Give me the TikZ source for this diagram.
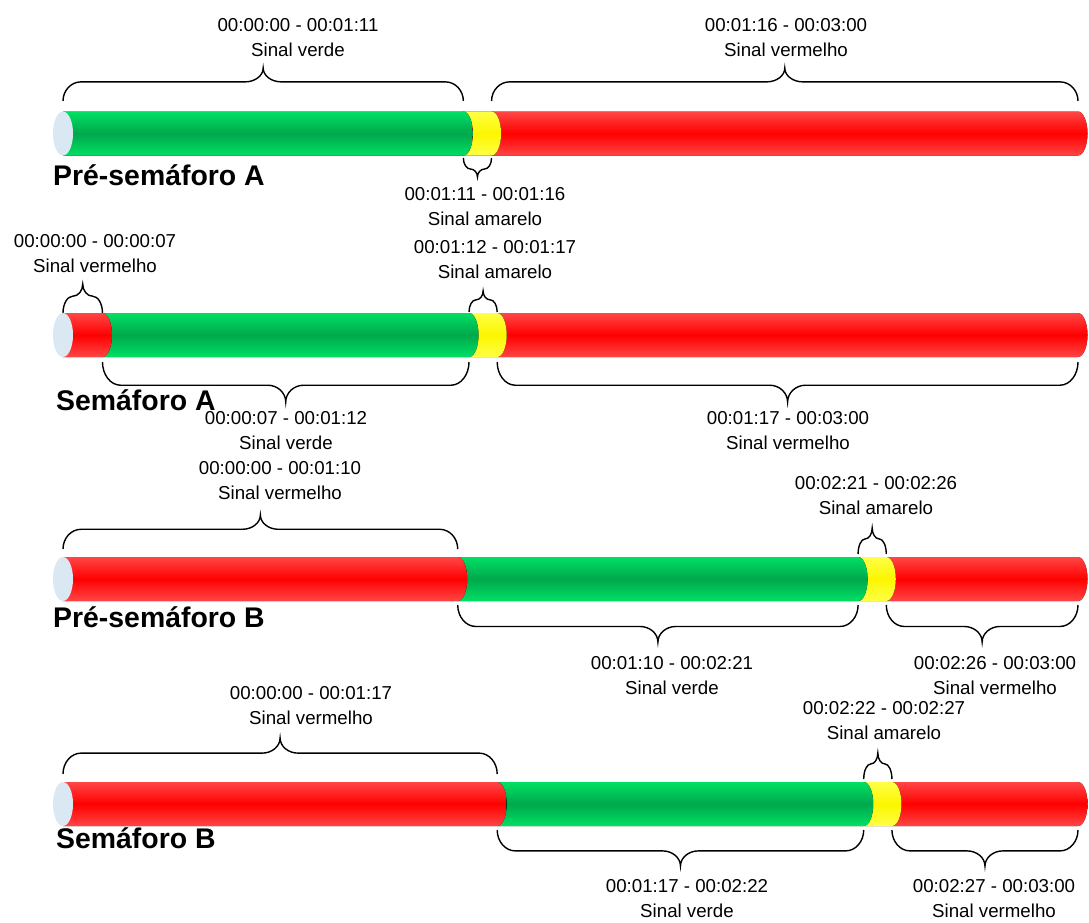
\documentclass[tikz,border=0pt]{standalone}
\usepackage{fontspec}
\setmainfont{Liberation Sans}

\definecolor{greenlight}{RGB}{0,224,100}
\definecolor{greendark}{RGB}{0,168,76}
\definecolor{redlight}{RGB}{255,70,70}
\definecolor{reddark}{RGB}{255,0,0}
\definecolor{yellowlight}{RGB}{255,255,70}
\definecolor{yellowdark}{RGB}{252,246,0}
\definecolor{capblue}{RGB}{218,232,244}

% time (s) -> x position, 1015 px for 180 s
\newcommand{\tx}[1]{63+#1*5.638889}

% one cylinder piece from t1 to t2 around yc
\newcommand{\seg}[4]{%
  \pgfmathsetmacro\xa{\tx{#1}}\pgfmathsetmacro\xb{\tx{#2}}%
  \fill[top color=#4light, bottom color=#4light, middle color=#4dark]
    (\xa,#3-22) -- (\xb,#3-22) arc[start angle=90, end angle=-90, x radius=9.5pt, y radius=22pt]
    -- (\xa,#3+22) -- cycle;}

% brace from t1 to t2, ends at ye, tip at yt
\newcommand{\brc}[4]{%
  \pgfmathsetmacro\xa{\tx{#1}}\pgfmathsetmacro\xb{\tx{#2}}%
  \pgfmathsetmacro\xc{(\xa+\xb)/2}\pgfmathsetmacro\ym{#4+0.42*(#3-#4)}%
  \pgfmathsetmacro\rr{min(18,(\xb-\xa)/4)}%
  \pgfmathsetmacro\yk{\ym+0.45*(#3-\ym)}\pgfmathsetmacro\yq{\ym+0.45*(#4-\ym)}%
  \draw[bracepen] (\xa,#3) .. controls (\xa,\yk) and (\xa+0.45*\rr,\ym) .. (\xa+\rr,\ym) -- (\xc-\rr,\ym)
    .. controls (\xc-0.45*\rr,\ym) and (\xc,\yq) .. (\xc,#4)
    .. controls (\xc,\yq) and (\xc+0.45*\rr,\ym) .. (\xc+\rr,\ym)
    -- (\xb-\rr,\ym) .. controls (\xb-0.45*\rr,\ym) and (\xb,\yk) .. (\xb,#3);}

\begin{document}
\begin{tikzpicture}[x=1pt, y=-1pt,
  bracepen/.style={line width=1.4pt, black},
  lbl/.style={font=\fontsize{18.7}{25}\selectfont, align=center, inner sep=0pt},
  ttl/.style={font=\fontsize{28.4}{34}\selectfont\bfseries, anchor=west, inner sep=0pt}]

\useasboundingbox (0,0) rectangle (1089,922);

% Pre-semaforo A
\seg{76}{180}{133.5}{red}
\seg{71}{76}{133.5}{yellow}
\seg{0}{71}{133.5}{green}
\fill[capblue] (63,133.5) ellipse [x radius=10pt, y radius=22pt];

\brc{0}{71}{101}{68}
\brc{76}{180}{101}{68}
\brc{71}{76}{158}{177}

\node[ttl] (psa) at (53,175) {Pré-semáforo A};
\node[lbl] (psa1) at (298,37.5) {00:00:00 - 00:01:11\\Sinal verde};
\node[lbl] (psa2) at (786,37.5) {00:01:16 - 00:03:00\\Sinal vermelho};
\node[lbl] (psa3) at (485,206.5) {00:01:11 - 00:01:16\\Sinal amarelo};

% Semaforo A
\seg{77}{180}{335}{red}
\seg{72}{77}{335}{yellow}
\seg{7}{72}{335}{green}
\seg{0}{7}{335}{red}
\fill[capblue] (63,335) ellipse [x radius=10pt, y radius=22pt];

\brc{0}{7}{313}{284}
\brc{72}{77}{312}{291}
\brc{7}{72}{362}{402}
\brc{77}{180}{362}{402}

\node[ttl] (sa) at (56,400) {Semáforo A};
\node[lbl] (sa1) at (95,253.5) {00:00:00 - 00:00:07\\Sinal vermelho};
\node[lbl] (sa2) at (495,259.5) {00:01:12 - 00:01:17\\Sinal amarelo};
\node[lbl] (sa3) at (286,430.5) {00:00:07 - 00:01:12\\Sinal verde};
\node[lbl] (sa4) at (788,430.5) {00:01:17 - 00:03:00\\Sinal vermelho};

% Pre-semaforo B
\seg{146}{180}{579}{red}
\seg{141}{146}{579}{yellow}
\seg{70}{141}{579}{green}
\seg{0}{70}{579}{red}
\fill[capblue] (63,579) ellipse [x radius=10pt, y radius=22pt];

\brc{0}{70}{549}{515}
\brc{141}{146}{554}{528}
\brc{70}{141}{605}{642}
\brc{146}{180}{605}{642}

\node[ttl] (psb) at (53,617) {Pré-semáforo B};
\node[lbl] (psb1) at (280,480.5) {00:00:00 - 00:01:10\\Sinal vermelho};
\node[lbl] (psb2) at (876,495.5) {00:02:21 - 00:02:26\\Sinal amarelo};
\node[lbl] (psb3) at (672,675.5) {00:01:10 - 00:02:21\\Sinal verde};
\node[lbl] (psb4) at (995,675.5) {00:02:26 - 00:03:00\\Sinal vermelho};

% Semaforo B
\seg{147}{180}{804}{red}
\seg{142}{147}{804}{yellow}
\seg{77}{142}{804}{green}
\seg{0}{77}{804}{red}
\fill[capblue] (63,804) ellipse [x radius=10pt, y radius=22pt];

\brc{0}{77}{774}{738}
\brc{142}{147}{779}{753}
\brc{77}{142}{830}{866}
\brc{147}{180}{830}{866}

\node[ttl] (sb) at (56,838) {Semáforo B};
\node[lbl] (sb1) at (311,705.5) {00:00:00 - 00:01:17\\Sinal vermelho};
\node[lbl] (sb2) at (884,720.5) {00:02:22 - 00:02:27\\Sinal amarelo};
\node[lbl] (sb3) at (687,899) {00:01:17 - 00:02:22\\Sinal verde};
\node[lbl] (sb4) at (994,899) {00:02:27 - 00:03:00\\Sinal vermelho};

\end{tikzpicture}
\end{document}
